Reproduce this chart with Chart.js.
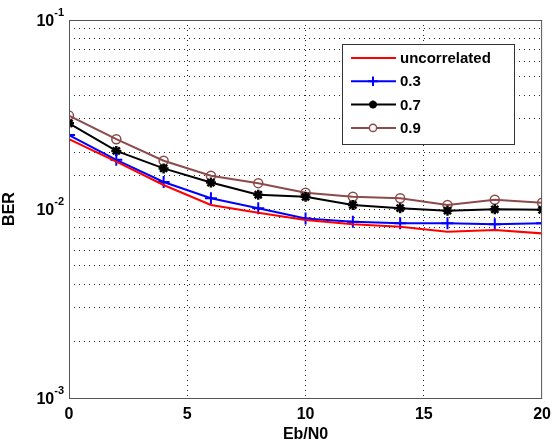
<!DOCTYPE html>
<html>
<head>
<meta charset="utf-8">
<script src="https://cdn.jsdelivr.net/npm/chart.js@4.4.0/dist/chart.umd.min.js"></script>
<style>
  html, body { margin: 0; padding: 0; background: #fff; }
  #wrap { width: 558px; height: 444px; }
</style>
</head>
<body>
<div id="wrap"><canvas id="berChart" width="558" height="444"></canvas></div>
<script>
const ebn0 = [0, 2, 4, 6, 8, 10, 12, 14, 16, 18, 20];
const berUncorrelated = [0.0234, 0.0178, 0.0134, 0.0105, 0.00955, 0.00875, 0.0083, 0.00805, 0.00759, 0.00775, 0.00743];
const ber03 = [0.0246, 0.0182, 0.0139, 0.0114, 0.0101, 0.0089, 0.00857, 0.0084, 0.0084, 0.0083, 0.0084];
const ber07 = [0.0284, 0.0203, 0.0164, 0.0138, 0.0119, 0.0116, 0.0105, 0.0101, 0.0098, 0.00996, 0.0099];
const ber09 = [0.0312, 0.0234, 0.0180, 0.0150, 0.0137, 0.0122, 0.0116, 0.0114, 0.0105, 0.0112, 0.0108];
const seriesLabels = ["uncorrelated", "0.3", "0.7", "0.9"];
const xTicks = [0, 5, 10, 15, 20];
const yDecades = [-3, -2, -1];

const FONT = "Liberation Sans, Arial, sans-serif";
const brown = "#8c4a4a";

function pts(values) {
    return ebn0.map((x, i) => ({ x: x, y: values[i] }));
}

const extras = {
    id: "extras",
    afterDraw(chart) {
        const ctx = chart.ctx;
        const a = chart.chartArea;
        const ys = chart.scales.y;
        ctx.save();

        // frame
        ctx.strokeStyle = "#555";
        ctx.lineWidth = 1;
        ctx.strokeRect(a.left + 0.5, a.top + 0.5, a.right - a.left - 1, a.bottom - a.top);

        // y decade labels with superscripts
        ctx.fillStyle = "#000";
        ctx.textBaseline = "alphabetic";
        ctx.textAlign = "left";
        yDecades.forEach(p => {
            const y = ys.getPixelForValue(Math.pow(10, p));
            const supTxt = String(p);
            ctx.font = "bold 11px " + FONT;
            const sw = ctx.measureText(supTxt).width;
            ctx.font = "bold 16px " + FONT;
            const bw = ctx.measureText("10").width;
            const right = a.left - 5;
            ctx.fillText("10", right - sw - bw, y + 6);
            ctx.font = "bold 11px " + FONT;
            ctx.fillText(supTxt, right - sw, y - 4);
        });

        // legend
        const lx = 342, ly = 44, lw = 172, lh = 100;
        ctx.fillStyle = "#fff";
        ctx.fillRect(lx, ly, lw, lh);
        ctx.strokeStyle = "#333";
        ctx.lineWidth = 1;
        ctx.strokeRect(lx + 0.5, ly + 0.5, lw, lh);
        chart.data.datasets.forEach((ds, i) => {
            const cy = 58 + i * 23.3;
            ctx.strokeStyle = ds.borderColor;
            ctx.lineWidth = 2;
            ctx.beginPath();
            ctx.moveTo(351, cy);
            ctx.lineTo(396, cy);
            ctx.stroke();
            if (ds.pointRadius > 0) {
                ctx.fillStyle = ds.legendFill;
                ctx.strokeStyle = ds.borderColor;
                ctx.lineWidth = ds.pointBorderWidth;
                Chart.helpers.drawPoint(ctx, {
                    pointStyle: ds.pointStyle,
                    radius: ds.pointRadius * 0.8,
                    borderWidth: ds.pointBorderWidth,
                    rotation: 0
                }, 373, cy);
            }
            ctx.fillStyle = "#000";
            ctx.font = "bold 15px " + FONT;
            ctx.textAlign = "left";
            ctx.textBaseline = "middle";
            ctx.fillText(seriesLabels[i], 400, cy + 1);
        });
        ctx.restore();
    }
};

new Chart(document.getElementById("berChart"), {
    type: "line",
    data: {
        datasets: [
            {
                label: seriesLabels[0],
                data: pts(berUncorrelated),
                borderColor: "#ff0000",
                backgroundColor: "#ff0000",
                borderWidth: 2,
                pointRadius: 0,
                pointBorderWidth: 0
            },
            {
                label: seriesLabels[1],
                data: pts(ber03),
                borderColor: "#0000ff",
                backgroundColor: "#0000ff",
                legendFill: "#0000ff",
                borderWidth: 2,
                pointStyle: "cross",
                pointRadius: 6,
                pointBorderWidth: 2,
                pointBorderColor: "#0000ff"
            },
            {
                label: seriesLabels[2],
                data: pts(ber07),
                borderColor: "#000000",
                backgroundColor: "#000000",
                legendFill: "#000000",
                borderWidth: 2,
                pointStyle: "star",
                pointRadius: 5,
                pointBorderWidth: 2.5,
                pointBorderColor: "#000000"
            },
            {
                label: seriesLabels[3],
                data: pts(ber09),
                borderColor: brown,
                backgroundColor: "#ffffff",
                legendFill: "#ffffff",
                borderWidth: 2,
                pointStyle: "circle",
                pointRadius: 4.5,
                pointBorderWidth: 1.5,
                pointBorderColor: brown,
                pointBackgroundColor: "rgba(255,255,255,0)"
            }
        ]
    },
    options: {
        responsive: false,
        animation: false,
        layout: { padding: { top: 20, right: 9, left: 0, bottom: 0 } },
        plugins: {
            legend: { display: false },
            tooltip: { enabled: false }
        },
        scales: {
            x: {
                type: "linear",
                min: 0,
                max: 20,
                afterBuildTicks: (s) => { s.ticks = xTicks.map(v => ({ value: v })); },
                afterFit: (s) => { s.height = 46; },
                border: { display: false, dash: [1, 4] },
                grid: {
                    color: (c) => (c.tick && (c.tick.value === 0 || c.tick.value === 20)) ? "rgba(0,0,0,0)" : "#222",
                    lineWidth: 1,
                    drawTicks: false
                },
                ticks: {
                    padding: 7,
                    color: "#000",
                    font: { family: FONT, size: 16, weight: "bold" }
                },
                title: {
                    display: true,
                    text: "Eb/N0",
                    color: "#000",
                    padding: { top: 0, bottom: 0 },
                    font: { family: FONT, size: 16, weight: "bold" }
                }
            },
            y: {
                type: "logarithmic",
                min: 0.001,
                max: 0.1,
                afterFit: (s) => { s.width = 69; },
                border: { display: false, dash: [1, 4] },
                grid: {
                    color: (c) => (c.tick && (Math.abs(c.tick.value - 0.1) < 1e-9 || Math.abs(c.tick.value - 0.001) < 1e-12)) ? "rgba(0,0,0,0)" : "#222",
                    lineWidth: 1,
                    drawTicks: false
                },
                ticks: {
                    autoSkip: false,
                    callback: () => "",
                    padding: 0
                },
                title: {
                    display: true,
                    text: "BER",
                    color: "#000",
                    padding: { top: 0, bottom: 0 },
                    font: { family: FONT, size: 16, weight: "bold" }
                }
            }
        }
    },
    plugins: [extras]
});
</script>
</body>
</html>
